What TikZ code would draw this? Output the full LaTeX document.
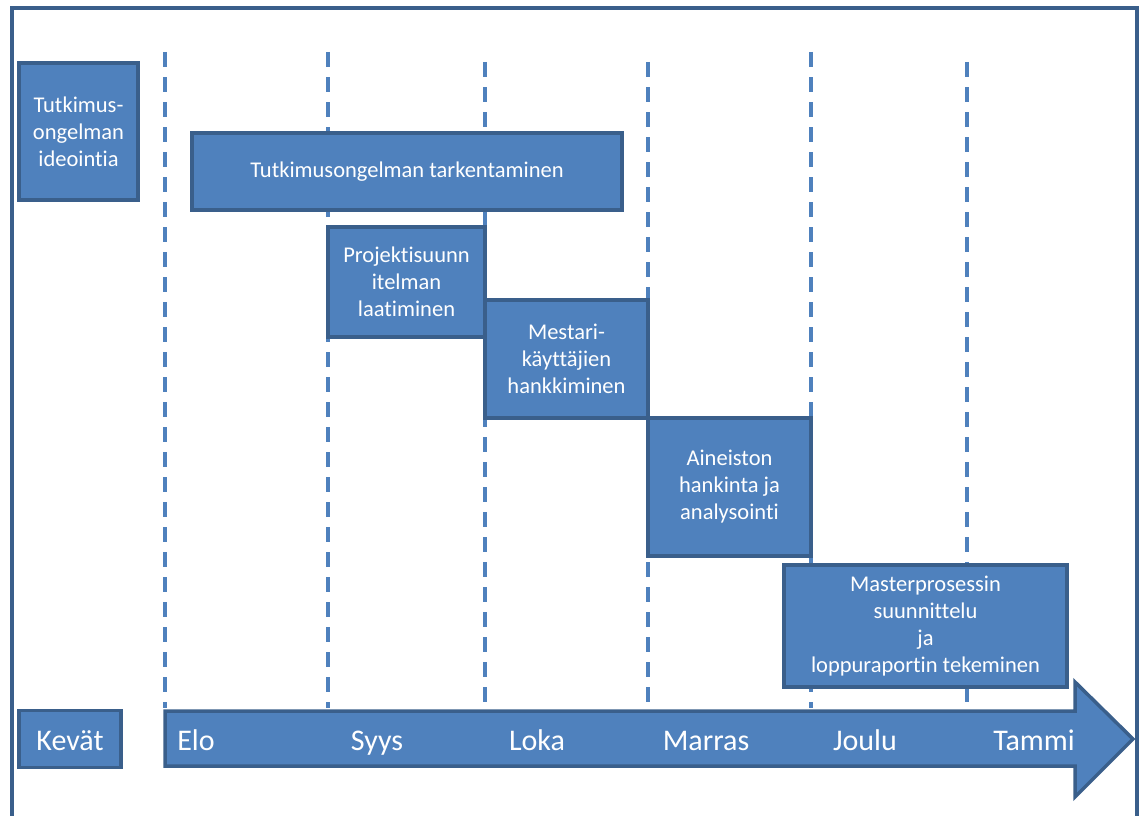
\documentclass[tikz,border=0pt]{standalone}
\usepackage{fontspec}
\setmainfont{Carlito}[RawFeature=-liga]
\begin{document}
\definecolor{barfill}{HTML}{4F81BD}
\definecolor{barline}{HTML}{3A5F8B}
\begin{tikzpicture}[x=1pt,y=-1pt,
  phase/.style={draw=barline, fill=barfill, line width=3.5pt, text=white,
    align=center, inner sep=0pt, font=\fontsize{22.5}{27}\selectfont},
  month/.style={text=white, inner sep=0pt, anchor=base, font=\fontsize{30}{34}\selectfont},
  guide/.style={draw=barfill, line width=3.5pt, dash pattern=on 15pt off 10pt}]
\useasboundingbox (0,0) rectangle (1140,816);
% outer frame, open at the bottom
\draw[barline, line width=3.5pt] (12,830) -- (12,8) -- (1137,8) -- (1137,830);
% month separators
\draw[guide] (165,52) -- (165,708);
\draw[guide] (328,52) -- (328,708);
\draw[guide] (485,62) -- (485,708);
\draw[guide] (648,62) -- (648,708);
\draw[guide] (811,52) -- (811,708);
\draw[guide] (967,62) -- (967,708);
% timeline arrow
\draw[barline, fill=barfill, line width=3.5pt, line join=miter]
  (165,711) -- (1075,711) -- (1075,682) -- (1133,739) -- (1075,797)
  -- (1075,766) -- (165,766) -- cycle;
\node[month] (elo) at (196,750) {Elo};
\node[month] (syys) at (377,750) {Syys};
\node[month] (loka) at (537,750) {Loka};
\node[month] (marras) at (706,750) {Marras};
\node[month] (joulu) at (865,750) {Joulu};
\node[month] (tammi) at (1034,750) {Tammi};
% phases
\node[phase, minimum width=102pt, minimum height=57pt] (kevat) at (70,739) {};
\node[month] (kevatlabel) at (kevat.center |- 0,750) {Kevät};
\node[phase, minimum width=119pt, minimum height=137pt] (ideointi) at (78.5,131.5)
  {Tutkimus-\\ongelman\\ideointia};
\node[phase, minimum width=430pt, minimum height=77pt] (tarkennus) at (407,171.5)
  {Tutkimusongelman tarkentaminen};
\node[phase, minimum width=157pt, minimum height=110pt] (suunnitelma) at (406.5,282)
  {Projektisuunn\\itelman\\laatiminen};
\node[phase, minimum width=163pt, minimum height=118pt] (mestarit) at (566.5,359)
  {Mestari-\\käyttäjien\\hankkiminen};
\node[phase, minimum width=163pt, minimum height=138pt] (aineisto) at (729.5,487)
  {Aineiston\\hankinta ja\\analysointi};
\node[phase, minimum width=283pt, minimum height=122pt] (raportti) at (925.5,626)
  {Masterprosessin\\suunnittelu\\ja\\loppuraportin tekeminen};
\end{tikzpicture}
\end{document}
